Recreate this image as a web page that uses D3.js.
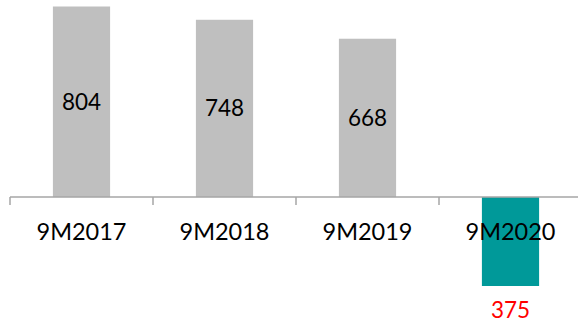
<!DOCTYPE html>
<html><head><meta charset="utf-8">
<script src="https://cdn.jsdelivr.net/npm/d3@7"></script>
<style>body{margin:0;background:#fff}svg{display:block}text{font-family:Lato,"Open Sans",sans-serif}</style>
</head><body>
<script>
const categories = ["9M2017","9M2018","9M2019","9M2020"];
const values = [804, 748, 668, -375];
const labels = ["804","748","668","375"];

const W = 578, H = 325;
const svg = d3.select("body").append("svg").attr("width", W).attr("height", H);
const x = d3.scaleBand().domain(categories).range([10, 582]).paddingInner(0.6).paddingOuter(0.3);
const y = d3.scaleLinear().domain([-375, 804]).range([286, 6.5]);
const y0 = y(0);

svg.selectAll("rect.bar").data(values).enter().append("rect")
  .attr("x", (d,i) => x(categories[i]))
  .attr("width", x.bandwidth())
  .attr("y", d => Math.min(y(d), y0))
  .attr("height", d => Math.abs(y(d) - y0))
  .attr("fill", d => d < 0 ? "#009999" : "#bfbfbf");

// axis
const step = (582 - 10) / 4;
svg.append("line").attr("x1", 10).attr("x2", W).attr("y1", y0).attr("y2", y0)
  .attr("stroke", "#a6a6a6").attr("stroke-width", 1.5);
categories.forEach((c,i) => {
  const tx = 10 + i * step;
  svg.append("line").attr("x1", tx).attr("x2", tx).attr("y1", y0).attr("y2", y0 + 8)
    .attr("stroke", "#a6a6a6").attr("stroke-width", 1.5);
});

svg.selectAll("text.cat").data(categories).enter().append("text")
  .attr("x", d => x(d) + x.bandwidth()/2).attr("y", 240)
  .attr("text-anchor", "middle").attr("font-size", 23.5).attr("fill", "#000").text(d => d);

svg.selectAll("text.val").data(values).enter().append("text")
  .attr("x", (d,i) => x(categories[i]) + x.bandwidth()/2)
  .attr("y", d => d >= 0 ? (y(d) + y0)/2 + 8 : 318)
  .attr("text-anchor", "middle").attr("font-size", 22.5)
  .attr("fill", d => d < 0 ? "#ff0000" : "#000")
  .text((d,i) => labels[i]);
</script>
</body></html>
